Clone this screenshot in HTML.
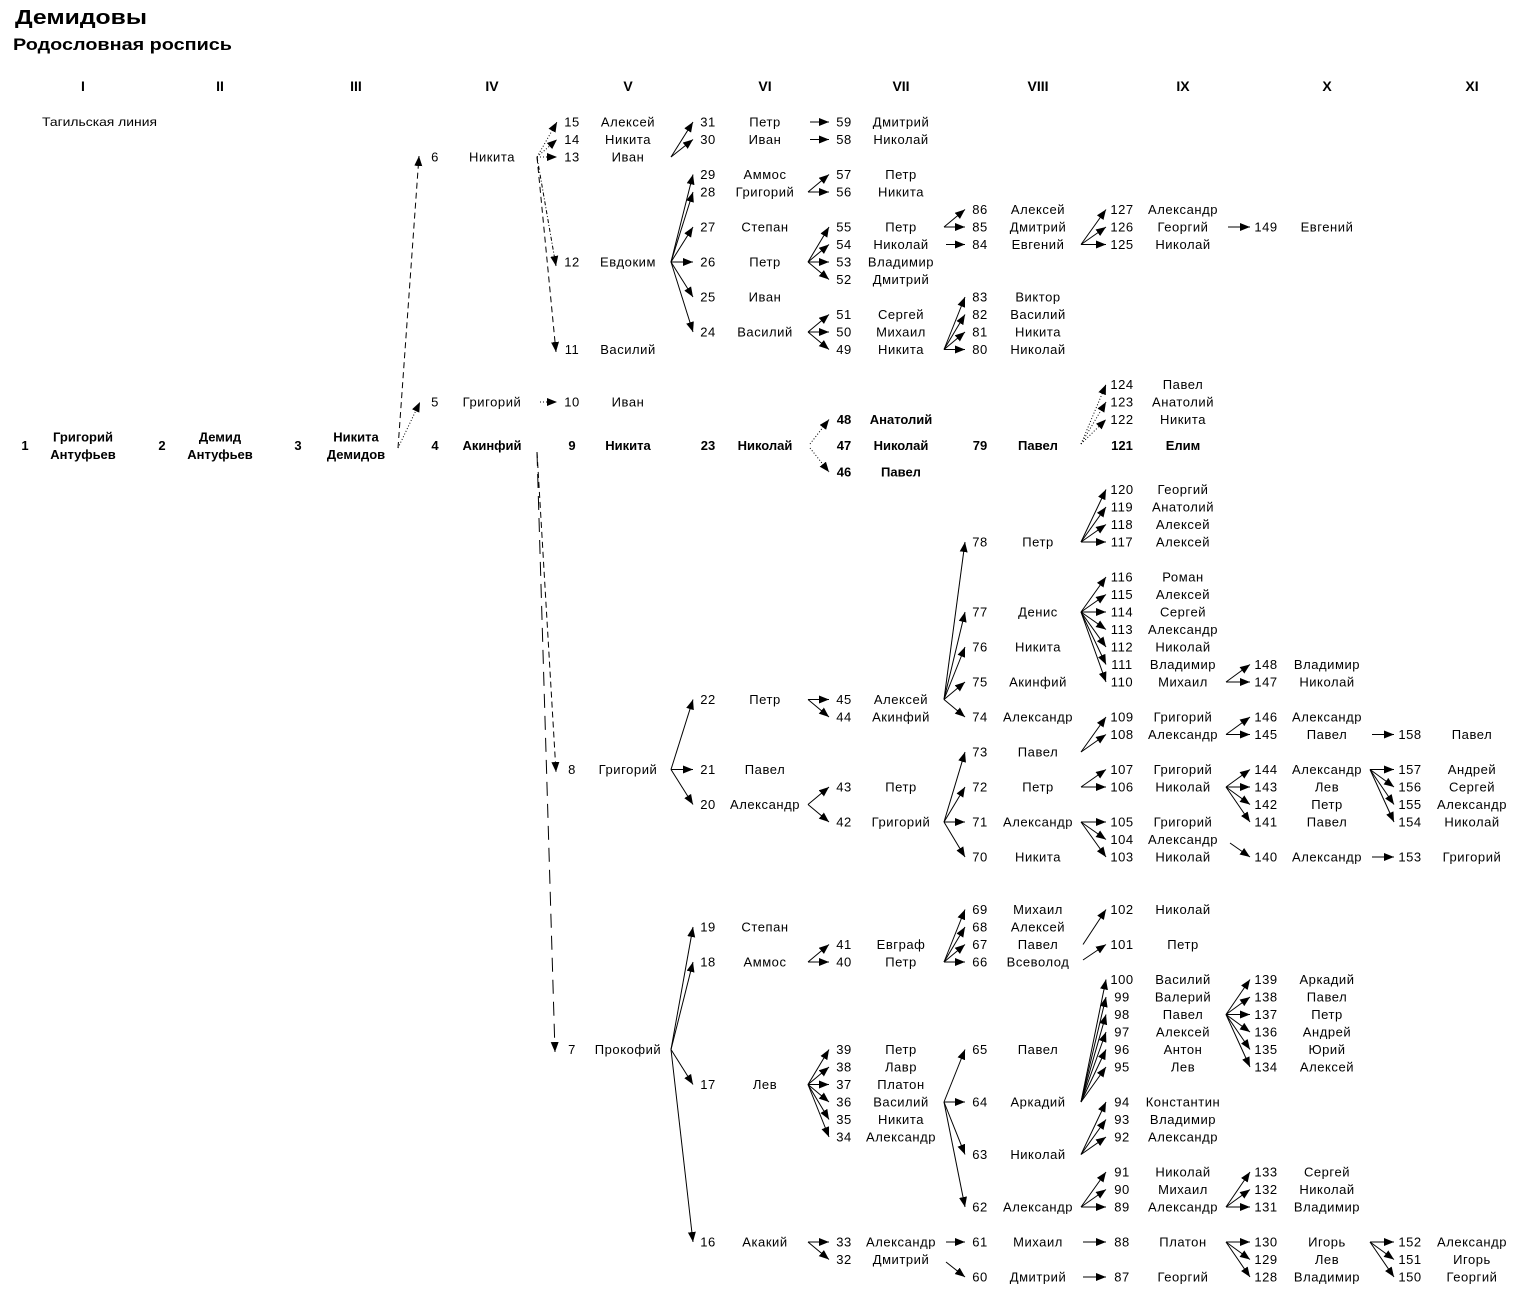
<!DOCTYPE html>
<html><head><meta charset="utf-8">
<style>
html,body{margin:0;padding:0;background:#fff;}
svg{display:block}
text{font-family:"Liberation Sans",Arial,sans-serif;font-size:13px;fill:#000;dominant-baseline:central;text-anchor:middle;letter-spacing:0.55px}
text.b{font-weight:bold;letter-spacing:0}
text.h{font-weight:bold;letter-spacing:0;font-size:14px}
line{stroke:#000;stroke-width:1;marker-end:url(#a)}
line.dt{stroke-dasharray:1 2}
line.ds{stroke-dasharray:6 4}
line.dl{stroke-dasharray:14 8}
line.dd{stroke-dasharray:4 2 1 2}
</style></head>
<body>
<svg width="1524" height="1294" viewBox="0 0 1524 1294" xmlns="http://www.w3.org/2000/svg">
<defs>
<marker id="a" markerUnits="userSpaceOnUse" markerWidth="11" markerHeight="9" refX="10" refY="4" orient="auto"><path d="M0,0 L10,4 L0,8 Z" fill="#000"/></marker>
</defs>
<rect width="1524" height="1294" fill="#fff"/>

<!-- titles -->
<text x="15" y="24" style="font-size:20px;font-weight:bold;text-anchor:start;dominant-baseline:alphabetic;letter-spacing:0" textLength="132" lengthAdjust="spacingAndGlyphs">Демидовы</text>
<text x="13" y="50" style="font-size:17px;font-weight:bold;text-anchor:start;dominant-baseline:alphabetic;letter-spacing:0" textLength="219" lengthAdjust="spacingAndGlyphs">Родословная роспись</text>

<!-- column headers -->
<text class="h" x="83" y="86">I</text>
<text class="h" x="220" y="86">II</text>
<text class="h" x="356" y="86">III</text>
<text class="h" x="492" y="86">IV</text>
<text class="h" x="628" y="86">V</text>
<text class="h" x="765" y="86">VI</text>
<text class="h" x="901" y="86">VII</text>
<text class="h" x="1038" y="86">VIII</text>
<text class="h" x="1183" y="86">IX</text>
<text class="h" x="1327" y="86">X</text>
<text class="h" x="1472" y="86">XI</text>

<text x="42" y="122" style="font-size:12px;text-anchor:start;letter-spacing:0" textLength="115" lengthAdjust="spacingAndGlyphs">Тагильская линия</text>

<!-- I-III -->
<text class="b" x="25" y="445.5">1</text>
<text class="b" x="83" y="437">Григорий</text>
<text class="b" x="83" y="454.5">Антуфьев</text>
<text class="b" x="162" y="445.5">2</text>
<text class="b" x="220" y="437">Демид</text>
<text class="b" x="220" y="454.5">Антуфьев</text>
<text class="b" x="298" y="445.5">3</text>
<text class="b" x="356" y="437">Никита</text>
<text class="b" x="356" y="454.5">Демидов</text>

<!-- IV -->
<text x="435" y="157">6</text><text x="492" y="157">Никита</text>
<text x="435" y="402">5</text><text x="492" y="402">Григорий</text>
<text class="b" x="435" y="445.5">4</text><text class="b" x="492" y="445.5">Акинфий</text>

<!-- V -->
<text x="572" y="122">15</text><text x="628" y="122">Алексей</text>
<text x="572" y="139.5">14</text><text x="628" y="139.5">Никита</text>
<text x="572" y="157">13</text><text x="628" y="157">Иван</text>
<text x="572" y="262">12</text><text x="628" y="262">Евдоким</text>
<text x="572" y="349.5">11</text><text x="628" y="349.5">Василий</text>
<text x="572" y="402">10</text><text x="628" y="402">Иван</text>
<text class="b" x="572" y="445.5">9</text><text class="b" x="628" y="445.5">Никита</text>
<text x="572" y="769.5">8</text><text x="628" y="769.5">Григорий</text>
<text x="572" y="1049.5">7</text><text x="628" y="1049.5">Прокофий</text>

<!-- VI -->
<text x="708" y="122">31</text><text x="765" y="122">Петр</text>
<text x="708" y="139.5">30</text><text x="765" y="139.5">Иван</text>
<text x="708" y="174.5">29</text><text x="765" y="174.5">Аммос</text>
<text x="708" y="192">28</text><text x="765" y="192">Григорий</text>
<text x="708" y="227">27</text><text x="765" y="227">Степан</text>
<text x="708" y="262">26</text><text x="765" y="262">Петр</text>
<text x="708" y="297">25</text><text x="765" y="297">Иван</text>
<text x="708" y="332">24</text><text x="765" y="332">Василий</text>
<text class="b" x="708" y="445.5">23</text><text class="b" x="765" y="445.5">Николай</text>
<text x="708" y="699.5">22</text><text x="765" y="699.5">Петр</text>
<text x="708" y="769.5">21</text><text x="765" y="769.5">Павел</text>
<text x="708" y="804.5">20</text><text x="765" y="804.5">Александр</text>
<text x="708" y="927">19</text><text x="765" y="927">Степан</text>
<text x="708" y="962">18</text><text x="765" y="962">Аммос</text>
<text x="708" y="1084.5">17</text><text x="765" y="1084.5">Лев</text>
<text x="708" y="1242">16</text><text x="765" y="1242">Акакий</text>

<!-- VII -->
<text x="844" y="122">59</text><text x="901" y="122">Дмитрий</text>
<text x="844" y="139.5">58</text><text x="901" y="139.5">Николай</text>
<text x="844" y="174.5">57</text><text x="901" y="174.5">Петр</text>
<text x="844" y="192">56</text><text x="901" y="192">Никита</text>
<text x="844" y="227">55</text><text x="901" y="227">Петр</text>
<text x="844" y="244.5">54</text><text x="901" y="244.5">Николай</text>
<text x="844" y="262">53</text><text x="901" y="262">Владимир</text>
<text x="844" y="279.5">52</text><text x="901" y="279.5">Дмитрий</text>
<text x="844" y="314.5">51</text><text x="901" y="314.5">Сергей</text>
<text x="844" y="332">50</text><text x="901" y="332">Михаил</text>
<text x="844" y="349.5">49</text><text x="901" y="349.5">Никита</text>
<text class="b" x="844" y="419.5">48</text><text class="b" x="901" y="419.5">Анатолий</text>
<text class="b" x="844" y="445.5">47</text><text class="b" x="901" y="445.5">Николай</text>
<text class="b" x="844" y="472">46</text><text class="b" x="901" y="472">Павел</text>
<text x="844" y="699.5">45</text><text x="901" y="699.5">Алексей</text>
<text x="844" y="717">44</text><text x="901" y="717">Акинфий</text>
<text x="844" y="787">43</text><text x="901" y="787">Петр</text>
<text x="844" y="822">42</text><text x="901" y="822">Григорий</text>
<text x="844" y="944.5">41</text><text x="901" y="944.5">Евграф</text>
<text x="844" y="962">40</text><text x="901" y="962">Петр</text>
<text x="844" y="1049.5">39</text><text x="901" y="1049.5">Петр</text>
<text x="844" y="1067">38</text><text x="901" y="1067">Лавр</text>
<text x="844" y="1084.5">37</text><text x="901" y="1084.5">Платон</text>
<text x="844" y="1102">36</text><text x="901" y="1102">Василий</text>
<text x="844" y="1119.5">35</text><text x="901" y="1119.5">Никита</text>
<text x="844" y="1137">34</text><text x="901" y="1137">Александр</text>
<text x="844" y="1242">33</text><text x="901" y="1242">Александр</text>
<text x="844" y="1259.5">32</text><text x="901" y="1259.5">Дмитрий</text>

<!-- VIII -->
<text x="980" y="209.5">86</text><text x="1038" y="209.5">Алексей</text>
<text x="980" y="227">85</text><text x="1038" y="227">Дмитрий</text>
<text x="980" y="244.5">84</text><text x="1038" y="244.5">Евгений</text>
<text x="980" y="297">83</text><text x="1038" y="297">Виктор</text>
<text x="980" y="314.5">82</text><text x="1038" y="314.5">Василий</text>
<text x="980" y="332">81</text><text x="1038" y="332">Никита</text>
<text x="980" y="349.5">80</text><text x="1038" y="349.5">Николай</text>
<text class="b" x="980" y="445.5">79</text><text class="b" x="1038" y="445.5">Павел</text>
<text x="980" y="542">78</text><text x="1038" y="542">Петр</text>
<text x="980" y="612">77</text><text x="1038" y="612">Денис</text>
<text x="980" y="647">76</text><text x="1038" y="647">Никита</text>
<text x="980" y="682">75</text><text x="1038" y="682">Акинфий</text>
<text x="980" y="717">74</text><text x="1038" y="717">Александр</text>
<text x="980" y="752">73</text><text x="1038" y="752">Павел</text>
<text x="980" y="787">72</text><text x="1038" y="787">Петр</text>
<text x="980" y="822">71</text><text x="1038" y="822">Александр</text>
<text x="980" y="857">70</text><text x="1038" y="857">Никита</text>
<text x="980" y="909.5">69</text><text x="1038" y="909.5">Михаил</text>
<text x="980" y="927">68</text><text x="1038" y="927">Алексей</text>
<text x="980" y="944.5">67</text><text x="1038" y="944.5">Павел</text>
<text x="980" y="962">66</text><text x="1038" y="962">Всеволод</text>
<text x="980" y="1049.5">65</text><text x="1038" y="1049.5">Павел</text>
<text x="980" y="1102">64</text><text x="1038" y="1102">Аркадий</text>
<text x="980" y="1154.5">63</text><text x="1038" y="1154.5">Николай</text>
<text x="980" y="1207">62</text><text x="1038" y="1207">Александр</text>
<text x="980" y="1242">61</text><text x="1038" y="1242">Михаил</text>
<text x="980" y="1277">60</text><text x="1038" y="1277">Дмитрий</text>

<!-- IX -->
<text x="1122" y="209.5">127</text><text x="1183" y="209.5">Александр</text>
<text x="1122" y="227">126</text><text x="1183" y="227">Георгий</text>
<text x="1122" y="244.5">125</text><text x="1183" y="244.5">Николай</text>
<text x="1122" y="384.5">124</text><text x="1183" y="384.5">Павел</text>
<text x="1122" y="402">123</text><text x="1183" y="402">Анатолий</text>
<text x="1122" y="419.5">122</text><text x="1183" y="419.5">Никита</text>
<text class="b" x="1122" y="445.5">121</text><text class="b" x="1183" y="445.5">Елим</text>
<text x="1122" y="489.5">120</text><text x="1183" y="489.5">Георгий</text>
<text x="1122" y="507">119</text><text x="1183" y="507">Анатолий</text>
<text x="1122" y="524.5">118</text><text x="1183" y="524.5">Алексей</text>
<text x="1122" y="542">117</text><text x="1183" y="542">Алексей</text>
<text x="1122" y="577">116</text><text x="1183" y="577">Роман</text>
<text x="1122" y="594.5">115</text><text x="1183" y="594.5">Алексей</text>
<text x="1122" y="612">114</text><text x="1183" y="612">Сергей</text>
<text x="1122" y="629.5">113</text><text x="1183" y="629.5">Александр</text>
<text x="1122" y="647">112</text><text x="1183" y="647">Николай</text>
<text x="1122" y="664.5">111</text><text x="1183" y="664.5">Владимир</text>
<text x="1122" y="682">110</text><text x="1183" y="682">Михаил</text>
<text x="1122" y="717">109</text><text x="1183" y="717">Григорий</text>
<text x="1122" y="734.5">108</text><text x="1183" y="734.5">Александр</text>
<text x="1122" y="769.5">107</text><text x="1183" y="769.5">Григорий</text>
<text x="1122" y="787">106</text><text x="1183" y="787">Николай</text>
<text x="1122" y="822">105</text><text x="1183" y="822">Григорий</text>
<text x="1122" y="839.5">104</text><text x="1183" y="839.5">Александр</text>
<text x="1122" y="857">103</text><text x="1183" y="857">Николай</text>
<text x="1122" y="909.5">102</text><text x="1183" y="909.5">Николай</text>
<text x="1122" y="944.5">101</text><text x="1183" y="944.5">Петр</text>
<text x="1122" y="979.5">100</text><text x="1183" y="979.5">Василий</text>
<text x="1122" y="997">99</text><text x="1183" y="997">Валерий</text>
<text x="1122" y="1014.5">98</text><text x="1183" y="1014.5">Павел</text>
<text x="1122" y="1032">97</text><text x="1183" y="1032">Алексей</text>
<text x="1122" y="1049.5">96</text><text x="1183" y="1049.5">Антон</text>
<text x="1122" y="1067">95</text><text x="1183" y="1067">Лев</text>
<text x="1122" y="1102">94</text><text x="1183" y="1102">Константин</text>
<text x="1122" y="1119.5">93</text><text x="1183" y="1119.5">Владимир</text>
<text x="1122" y="1137">92</text><text x="1183" y="1137">Александр</text>
<text x="1122" y="1172">91</text><text x="1183" y="1172">Николай</text>
<text x="1122" y="1189.5">90</text><text x="1183" y="1189.5">Михаил</text>
<text x="1122" y="1207">89</text><text x="1183" y="1207">Александр</text>
<text x="1122" y="1242">88</text><text x="1183" y="1242">Платон</text>
<text x="1122" y="1277">87</text><text x="1183" y="1277">Георгий</text>

<!-- X -->
<text x="1266" y="227">149</text><text x="1327" y="227">Евгений</text>
<text x="1266" y="664.5">148</text><text x="1327" y="664.5">Владимир</text>
<text x="1266" y="682">147</text><text x="1327" y="682">Николай</text>
<text x="1266" y="717">146</text><text x="1327" y="717">Александр</text>
<text x="1266" y="734.5">145</text><text x="1327" y="734.5">Павел</text>
<text x="1266" y="769.5">144</text><text x="1327" y="769.5">Александр</text>
<text x="1266" y="787">143</text><text x="1327" y="787">Лев</text>
<text x="1266" y="804.5">142</text><text x="1327" y="804.5">Петр</text>
<text x="1266" y="822">141</text><text x="1327" y="822">Павел</text>
<text x="1266" y="857">140</text><text x="1327" y="857">Александр</text>
<text x="1266" y="979.5">139</text><text x="1327" y="979.5">Аркадий</text>
<text x="1266" y="997">138</text><text x="1327" y="997">Павел</text>
<text x="1266" y="1014.5">137</text><text x="1327" y="1014.5">Петр</text>
<text x="1266" y="1032">136</text><text x="1327" y="1032">Андрей</text>
<text x="1266" y="1049.5">135</text><text x="1327" y="1049.5">Юрий</text>
<text x="1266" y="1067">134</text><text x="1327" y="1067">Алексей</text>
<text x="1266" y="1172">133</text><text x="1327" y="1172">Сергей</text>
<text x="1266" y="1189.5">132</text><text x="1327" y="1189.5">Николай</text>
<text x="1266" y="1207">131</text><text x="1327" y="1207">Владимир</text>
<text x="1266" y="1242">130</text><text x="1327" y="1242">Игорь</text>
<text x="1266" y="1259.5">129</text><text x="1327" y="1259.5">Лев</text>
<text x="1266" y="1277">128</text><text x="1327" y="1277">Владимир</text>

<!-- XI -->
<text x="1410" y="734.5">158</text><text x="1472" y="734.5">Павел</text>
<text x="1410" y="769.5">157</text><text x="1472" y="769.5">Андрей</text>
<text x="1410" y="787">156</text><text x="1472" y="787">Сергей</text>
<text x="1410" y="804.5">155</text><text x="1472" y="804.5">Александр</text>
<text x="1410" y="822">154</text><text x="1472" y="822">Николай</text>
<text x="1410" y="857">153</text><text x="1472" y="857">Григорий</text>
<text x="1410" y="1242">152</text><text x="1472" y="1242">Александр</text>
<text x="1410" y="1259.5">151</text><text x="1472" y="1259.5">Игорь</text>
<text x="1410" y="1277">150</text><text x="1472" y="1277">Георгий</text>

<!-- ===== connectors ===== -->
<!-- III -> IV -->
<line class="ds" x1="398" y1="448" x2="419" y2="156"/>
<line class="dt" x1="398" y1="448" x2="420" y2="402"/>

<!-- IV -> V -->
<line class="dt" x1="537" y1="157" x2="557" y2="122"/>
<line class="dt" x1="537" y1="157" x2="557" y2="139.5"/>
<line class="dt" x1="537" y1="157" x2="557" y2="157"/>
<line class="dd" x1="537" y1="157" x2="556" y2="266"/>
<line class="ds" x1="537" y1="157" x2="556" y2="352"/>
<line class="dt" x1="540" y1="402" x2="557" y2="402"/>
<line class="ds" x1="537" y1="452" x2="556" y2="772"/>
<line class="dl" x1="537" y1="452" x2="555" y2="1052"/>

<!-- V -> VI -->
<line x1="671" y1="157" x2="693" y2="122"/>
<line x1="671" y1="157" x2="693" y2="139.5"/>
<line x1="671" y1="262" x2="693" y2="174.5"/>
<line x1="671" y1="262" x2="693" y2="192"/>
<line x1="671" y1="262" x2="693" y2="227"/>
<line x1="671" y1="262" x2="693" y2="262"/>
<line x1="671" y1="262" x2="693" y2="297"/>
<line x1="671" y1="262" x2="693" y2="332"/>
<line x1="671" y1="769.5" x2="693" y2="699.5"/>
<line x1="671" y1="769.5" x2="693" y2="769.5"/>
<line x1="671" y1="769.5" x2="693" y2="804.5"/>
<line x1="671" y1="1049.5" x2="693" y2="927"/>
<line x1="671" y1="1049.5" x2="693" y2="962"/>
<line x1="671" y1="1049.5" x2="693" y2="1084.5"/>
<line x1="671" y1="1049.5" x2="693" y2="1242"/>

<!-- VI -> VII -->
<line x1="810" y1="122" x2="829" y2="122"/>
<line x1="810" y1="139.5" x2="829" y2="139.5"/>
<line x1="808" y1="192" x2="829" y2="174.5"/>
<line x1="808" y1="192" x2="829" y2="192"/>
<line x1="808" y1="262" x2="829" y2="227"/>
<line x1="808" y1="262" x2="829" y2="244.5"/>
<line x1="808" y1="262" x2="829" y2="262"/>
<line x1="808" y1="262" x2="829" y2="279.5"/>
<line x1="808" y1="332" x2="829" y2="314.5"/>
<line x1="808" y1="332" x2="829" y2="332"/>
<line x1="808" y1="332" x2="829" y2="349.5"/>
<line class="dt" x1="810" y1="444" x2="829" y2="419.5"/>
<line class="dt" x1="810" y1="448" x2="829" y2="472"/>
<line x1="808" y1="699.5" x2="829" y2="699.5"/>
<line x1="808" y1="699.5" x2="829" y2="717"/>
<line x1="808" y1="804.5" x2="829" y2="787"/>
<line x1="808" y1="804.5" x2="829" y2="822"/>
<line x1="808" y1="962" x2="829" y2="944.5"/>
<line x1="808" y1="962" x2="829" y2="962"/>
<line x1="808" y1="1084.5" x2="829" y2="1049.5"/>
<line x1="808" y1="1084.5" x2="829" y2="1067"/>
<line x1="808" y1="1084.5" x2="829" y2="1084.5"/>
<line x1="808" y1="1084.5" x2="829" y2="1102"/>
<line x1="808" y1="1084.5" x2="829" y2="1119.5"/>
<line x1="808" y1="1084.5" x2="829" y2="1137"/>
<line x1="808" y1="1242" x2="829" y2="1242"/>
<line x1="808" y1="1242" x2="829" y2="1259.5"/>

<!-- VII -> VIII -->
<line x1="944" y1="227" x2="965" y2="209.5"/>
<line x1="944" y1="227" x2="965" y2="227"/>
<line x1="946" y1="244.5" x2="965" y2="244.5"/>
<line x1="944" y1="349.5" x2="965" y2="297"/>
<line x1="944" y1="349.5" x2="965" y2="314.5"/>
<line x1="944" y1="349.5" x2="965" y2="332"/>
<line x1="944" y1="349.5" x2="965" y2="349.5"/>
<line x1="944" y1="699.5" x2="965" y2="542"/>
<line x1="944" y1="699.5" x2="965" y2="612"/>
<line x1="944" y1="699.5" x2="965" y2="647"/>
<line x1="944" y1="699.5" x2="965" y2="682"/>
<line x1="944" y1="699.5" x2="965" y2="717"/>
<line x1="944" y1="822" x2="965" y2="752"/>
<line x1="944" y1="822" x2="965" y2="787"/>
<line x1="944" y1="822" x2="965" y2="822"/>
<line x1="944" y1="822" x2="965" y2="857"/>
<line x1="944" y1="962" x2="965" y2="909.5"/>
<line x1="944" y1="962" x2="965" y2="927"/>
<line x1="944" y1="962" x2="965" y2="944.5"/>
<line x1="944" y1="962" x2="965" y2="962"/>
<line x1="944" y1="1102" x2="965" y2="1049.5"/>
<line x1="944" y1="1102" x2="965" y2="1102"/>
<line x1="944" y1="1102" x2="965" y2="1154.5"/>
<line x1="944" y1="1102" x2="965" y2="1207"/>
<line x1="946" y1="1242" x2="965" y2="1242"/>
<line x1="946" y1="1262" x2="965" y2="1277"/>

<!-- VIII -> IX -->
<line x1="1081" y1="244.5" x2="1106" y2="209.5"/>
<line x1="1081" y1="244.5" x2="1106" y2="227"/>
<line x1="1081" y1="244.5" x2="1106" y2="244.5"/>
<line class="dt" x1="1081" y1="444" x2="1106" y2="384.5"/>
<line class="dt" x1="1081" y1="444" x2="1106" y2="402"/>
<line class="dt" x1="1081" y1="444" x2="1106" y2="419.5"/>
<line x1="1081" y1="542" x2="1106" y2="489.5"/>
<line x1="1081" y1="542" x2="1106" y2="507"/>
<line x1="1081" y1="542" x2="1106" y2="524.5"/>
<line x1="1081" y1="542" x2="1106" y2="542"/>
<line x1="1081" y1="612" x2="1106" y2="577"/>
<line x1="1081" y1="612" x2="1106" y2="594.5"/>
<line x1="1081" y1="612" x2="1106" y2="612"/>
<line x1="1081" y1="612" x2="1106" y2="629.5"/>
<line x1="1081" y1="612" x2="1106" y2="647"/>
<line x1="1081" y1="612" x2="1106" y2="664.5"/>
<line x1="1081" y1="612" x2="1106" y2="682"/>
<line x1="1081" y1="752" x2="1106" y2="717"/>
<line x1="1081" y1="752" x2="1106" y2="734.5"/>
<line x1="1081" y1="787" x2="1106" y2="769.5"/>
<line x1="1081" y1="787" x2="1106" y2="787"/>
<line x1="1081" y1="822" x2="1106" y2="822"/>
<line x1="1081" y1="822" x2="1106" y2="839.5"/>
<line x1="1081" y1="822" x2="1106" y2="857"/>
<line x1="1083" y1="944.5" x2="1106" y2="909.5"/>
<line x1="1083" y1="960" x2="1106" y2="944.5"/>
<line x1="1081" y1="1102" x2="1106" y2="979.5"/>
<line x1="1081" y1="1102" x2="1106" y2="997"/>
<line x1="1081" y1="1102" x2="1106" y2="1014.5"/>
<line x1="1081" y1="1102" x2="1106" y2="1032"/>
<line x1="1081" y1="1102" x2="1106" y2="1049.5"/>
<line x1="1081" y1="1102" x2="1106" y2="1067"/>
<line x1="1081" y1="1154.5" x2="1106" y2="1102"/>
<line x1="1081" y1="1154.5" x2="1106" y2="1119.5"/>
<line x1="1081" y1="1154.5" x2="1106" y2="1137"/>
<line x1="1081" y1="1207" x2="1106" y2="1172"/>
<line x1="1081" y1="1207" x2="1106" y2="1189.5"/>
<line x1="1081" y1="1207" x2="1106" y2="1207"/>
<line x1="1083" y1="1242" x2="1106" y2="1242"/>
<line x1="1083" y1="1277" x2="1106" y2="1277"/>

<!-- IX -> X -->
<line x1="1228" y1="227" x2="1250" y2="227"/>
<line x1="1226" y1="682" x2="1250" y2="664.5"/>
<line x1="1226" y1="682" x2="1250" y2="682"/>
<line x1="1226" y1="734.5" x2="1250" y2="717"/>
<line x1="1226" y1="734.5" x2="1250" y2="734.5"/>
<line x1="1226" y1="787" x2="1250" y2="769.5"/>
<line x1="1226" y1="787" x2="1250" y2="787"/>
<line x1="1226" y1="787" x2="1250" y2="804.5"/>
<line x1="1226" y1="787" x2="1250" y2="822"/>
<line x1="1230" y1="843" x2="1250" y2="857"/>
<line x1="1226" y1="1014.5" x2="1250" y2="979.5"/>
<line x1="1226" y1="1014.5" x2="1250" y2="997"/>
<line x1="1226" y1="1014.5" x2="1250" y2="1014.5"/>
<line x1="1226" y1="1014.5" x2="1250" y2="1032"/>
<line x1="1226" y1="1014.5" x2="1250" y2="1049.5"/>
<line x1="1226" y1="1014.5" x2="1250" y2="1067"/>
<line x1="1226" y1="1207" x2="1250" y2="1172"/>
<line x1="1226" y1="1207" x2="1250" y2="1189.5"/>
<line x1="1226" y1="1207" x2="1250" y2="1207"/>
<line x1="1226" y1="1242" x2="1250" y2="1242"/>
<line x1="1226" y1="1242" x2="1250" y2="1259.5"/>
<line x1="1226" y1="1242" x2="1250" y2="1277"/>

<!-- X -> XI -->
<line x1="1372" y1="734.5" x2="1394" y2="734.5"/>
<line x1="1370" y1="769.5" x2="1394" y2="769.5"/>
<line x1="1370" y1="769.5" x2="1394" y2="787"/>
<line x1="1370" y1="769.5" x2="1394" y2="804.5"/>
<line x1="1370" y1="769.5" x2="1394" y2="822"/>
<line x1="1372" y1="857" x2="1394" y2="857"/>
<line x1="1370" y1="1242" x2="1394" y2="1242"/>
<line x1="1370" y1="1242" x2="1394" y2="1259.5"/>
<line x1="1370" y1="1242" x2="1394" y2="1277"/>
</svg>
</body></html>
